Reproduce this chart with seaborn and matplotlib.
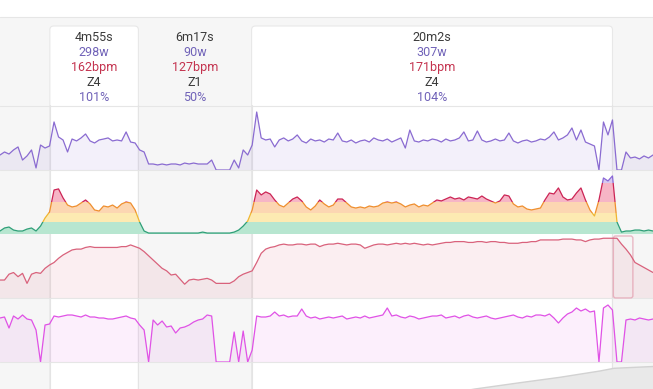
import numpy as np
import pandas as pd
import matplotlib.pyplot as plt
import seaborn as sns
from matplotlib.patches import Rectangle, FancyBboxPatch

# =========================
# DATA (one sample every 15 s)
# =========================
step_s = 15

power_w = [
    170, 195, 178, 212, 237, 128, 162, 212, 62, 253, 228, 245,
    445, 320, 295, 195, 303, 287, 312, 345, 287, 270, 295, 303, 312, 287, 295, 287, 362, 278, 270,
    212, 195, 95, 95, 87, 95, 87, 95, 95, 87, 103, 95, 103, 95, 95, 95, 128, 0, 0, 0, 0, 128, 62, 212, 170, 253,
    528, 312, 295, 303, 237, 295, 312, 287, 303, 337,
    287, 270, 303, 287, 295, 278, 303, 295, 353, 287,
    278, 295, 270, 287, 295, 278, 312, 295, 287, 303,
    278, 295, 312, 228, 378, 287, 278, 295, 287, 303,
    295, 278, 303, 287, 295, 312, 362, 287, 295, 370,
    295, 278, 287, 303, 287, 295, 353, 287, 270, 287,
    295, 278, 287, 303, 295, 320, 362, 295, 312, 337,
    395, 295, 378, 278, 262, 245, 40, 445, 337, 462,
    0, 0, 195, 145, 153, 137, 162, 145, 170,
]

power_30s_w = [
    97, 122, 130, 105, 97, 97, 113, 122, 97, 138, 205, 255,
    438, 447, 372, 313, 297, 305, 330, 355, 322, 272, 263, 305, 297, 313, 288, 322, 338, 330, 272,
    172, 97, 80, 80, 80, 80, 80, 80, 80, 80, 80, 80, 80, 80, 88, 80, 80, 80, 80, 80, 80, 88, 105, 138, 180, 272,
    438, 397, 422, 405, 355, 313, 297, 330, 363, 380,
    347, 297, 272, 305, 355, 322, 297, 313, 363, 363,
    330, 297, 288, 297, 288, 305, 297, 305, 330, 338,
    330, 338, 322, 297, 313, 322, 297, 313, 305, 330,
    355, 347, 363, 380, 363, 372, 355, 380, 372, 363,
    388, 363, 347, 330, 347, 397, 388, 322, 297, 305,
    280, 272, 280, 288, 355, 413, 405, 455, 380, 355,
    363, 413, 455, 355, 272, 222, 355, 538, 513, 555,
    172, 88, 97, 97, 105, 105, 97, 105, 97,
]

hr_bpm = [
    127, 127, 134, 136, 131, 135, 123, 134, 136, 135, 141, 145,
    148, 153, 157, 160, 163, 164, 164, 166, 167, 166, 166, 166, 166, 166, 166, 167, 167, 169, 167,
    165, 161, 156, 151, 146, 141, 138, 133, 134, 128, 122, 127, 128, 127, 128, 129, 127, 123, 123, 123, 123, 126, 131, 134, 136, 138,
    148, 159, 164, 166, 167, 169, 170, 169, 169, 170,
    170, 169, 170, 170, 167, 169, 170, 170, 171, 170,
    169, 170, 170, 169, 165, 167, 169, 170, 170, 169,
    170, 171, 170, 171, 170, 171, 170, 169, 170, 169,
    170, 171, 172, 172, 173, 173, 173, 172, 172, 173,
    173, 172, 173, 173, 172, 172, 171, 171, 171, 172,
    172, 173, 173, 175, 175, 175, 175, 175, 176, 176,
    176, 175, 175, 173, 175, 176, 176, 177, 177, 177,
    177, 170, 164, 157, 148, 145, 142, 139, 136,
]

cadence_rpm = [
    88, 90, 68, 92, 86, 94, 86, 84, 64, 0, 74, 76,
    92, 90, 92, 94, 94, 92, 90, 94, 90, 90, 88, 88, 86, 86, 88, 90, 92, 88, 86,
    74, 64, 0, 84, 74, 82, 70, 72, 58, 68, 70, 74, 80, 84, 86, 94, 92, 0, 0, 0, 0, 60, 0, 62, 0, 24,
    92, 90, 90, 92, 100, 92, 94, 90, 92, 92,
    106, 92, 88, 90, 86, 88, 90, 88, 90, 92,
    86, 88, 90, 88, 92, 88, 90, 92, 94, 108,
    92, 94, 90, 88, 92, 90, 86, 88, 90, 92,
    92, 94, 88, 90, 92, 88, 92, 94, 90, 88,
    90, 92, 88, 86, 88, 90, 92, 94, 90, 88,
    92, 90, 94, 94, 92, 96, 88, 78, 88, 96,
    100, 108, 102, 106, 100, 102, 0, 108, 114, 104,
    0, 0, 84, 86, 84, 88, 86, 84, 86,
]

elev_time_s = [0, 1100, 1565, 1582, 1732, 1865, 1998, 2045, 2175]
elev_m = [85, 92, 99, 100, 107, 113, 120, 123, 125]

interval_start_s = [166, 461, 838]
interval_end_s = [461, 838, 2040]
interval_time = ["4m55s", "6m17s", "20m2s"]
interval_watts = [298, 90, 307]
interval_bpm = [162, 127, 171]
interval_zone = ["Z4", "Z1", "Z4"]
interval_pct = [101, 50, 104]
interval_selected = [True, False, True]

zone_edges_w = [72, 174, 244, 341, 497, 800]
zone_fill = ["#b7e6d0", "#fdeab2", "#fcd6b2", "#f6b5c6", "#d6c8f0"]
zone_line = ["#2f9f78", "#efb631", "#ef8f2f", "#cc2455", "#8a68d6"]

time_s = np.arange(len(power_w)) * step_s
t_max = 2175

df = pd.DataFrame({
    "time_s": time_s,
    "power": np.clip(power_w, 45, None),
    "power_30s": power_30s_w,
    "hr": hr_bpm,
    "cadence": cadence_rpm,
})

# =========================
# FIGURE
# =========================
sns.set_theme(style="white")
plt.rcParams["font.family"] = ["Roboto", "DejaVu Sans"]

W, H = 653, 389
fig = plt.figure(figsize=(W / 100, H / 100), dpi=100)
fig.patch.set_facecolor("white")

# background layer: x in seconds, y in pixels from the top
bg = fig.add_axes([0, 0, 1, 1])
bg.set_xlim(0, t_max)
bg.set_ylim(H, 0)
bg.axis("off")
bg.add_patch(Rectangle((0, 17), t_max, H, color="#f6f6f6", lw=0))
bg.axhline(17, color="#e6e6e6", lw=0.8)

for start, end, sel in zip(interval_start_s, interval_end_s, interval_selected):
    if sel:
        bg.add_patch(FancyBboxPatch(
            (start, 26), end - start, 400,
            boxstyle="round,pad=0,rounding_size=13", mutation_aspect=0.3,
            fc="white", ec="#e8e8e8", lw=0.8))

for y in [105.5, 170, 298, 362]:
    bg.axhline(y, color="#e6e6e6", lw=0.8)
for x in interval_start_s + [interval_end_s[-1]]:
    bg.plot([x, x], [105, H], color="#e4e4e4", lw=0.8)

# header texts
for k in range(len(interval_time)):
    cx = (interval_start_s[k] + interval_end_s[k]) / 2
    rows = [
        (interval_time[k], "#3a3a3a"),
        (f"{interval_watts[k]}w", "#7062b8"),
        (f"{interval_bpm[k]}bpm", "#c4334f"),
        (interval_zone[k], "#3a3a3a"),
        (f"{interval_pct[k]}%", "#7062b8"),
    ]
    for j, (txt, col) in enumerate(rows):
        bg.text(cx, 41 + 15 * j, txt, color=col, fontsize=9,
                ha="center", va="baseline")

# hover box on the heart rate panel
bg.add_patch(FancyBboxPatch(
    (interval_end_s[-1] + 3, 236), 65, 62,
    boxstyle="round,pad=0,rounding_size=8", mutation_aspect=0.3,
    fc="none", ec="#e9b9c5", lw=1.0, zorder=5))


def panel(bottom_px, top_px):
    ax = fig.add_axes([0, (H - bottom_px) / H, 1, (bottom_px - top_px) / H])
    ax.patch.set_alpha(0)
    return ax


# power
ax_p = panel(170, 106)
ax_p.fill_between(df["time_s"], 45, df["power"], color="#8c6fd1", alpha=0.1, lw=0)
sns.lineplot(data=df, x="time_s", y="power", ax=ax_p, color="#8a6bd1", lw=0.9)
ax_p.set_ylim(45, 578)

# smoothed power coloured by zone
ax_z = panel(234, 174)
for k in range(len(zone_fill)):
    lo, hi = zone_edges_w[k], zone_edges_w[k + 1]
    clip = Rectangle((0, lo), t_max, hi - lo, transform=ax_z.transData)
    poly = ax_z.fill_between(df["time_s"], 72, df["power_30s"], color=zone_fill[k], lw=0)
    poly.set_clip_path(clip)
    ln, = ax_z.plot(df["time_s"], df["power_30s"], color=zone_line[k], lw=0.9)
    ln.set_clip_path(clip)
ax_z.set_ylim(72, 571)

# heart rate
ax_h = panel(298, 237)
ax_h.fill_between(df["time_s"], 100, df["hr"], color="#e07a90", alpha=0.12, lw=0)
sns.lineplot(data=df, x="time_s", y="hr", ax=ax_h, color="#d9627c", lw=0.9)
ax_h.set_ylim(105.5, 178.5)

# cadence
ax_c = panel(362, 300)
ax_c.fill_between(df["time_s"], 0, df["cadence"], color="#e264e6", alpha=0.1, lw=0)
sns.lineplot(data=df, x="time_s", y="cadence", ax=ax_c, color="#e052e6", lw=0.9)
ax_c.set_ylim(0, 124)

# elevation
ax_e = panel(H, 362)
ax_e.fill_between(elev_time_s, 0, elev_m, color="#e9e9e9", lw=0)
sns.lineplot(x=elev_time_s, y=elev_m, ax=ax_e, color="#d2d2d2", lw=1.0)
ax_e.set_ylim(100, 130)

for ax in [ax_p, ax_z, ax_h, ax_c, ax_e]:
    ax.set_xlim(0, t_max)
    ax.axis("off")

fig.savefig("out.png", dpi=100)
